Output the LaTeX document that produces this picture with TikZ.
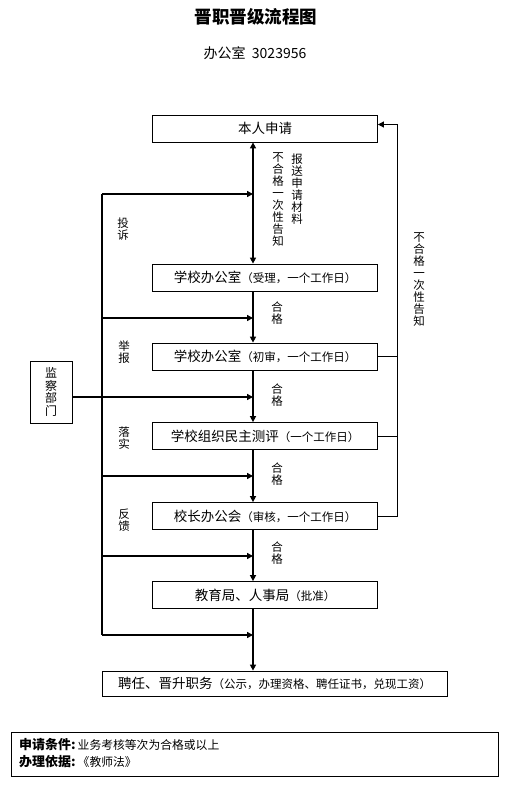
\documentclass[tikz,border=0pt]{standalone}
\usepackage{fontspec}
\setmainfont{Noto Sans CJK SC}
\usepackage{tikz}
\usetikzlibrary{positioning, arrows.meta}

\newcommand{\kuohao}[1]{{\fontsize{11.5}{14}\selectfont #1}}

\begin{document}
\begin{tikzpicture}[x=1pt, y=-1pt,
    box/.style={rectangle, draw, line width=0.8pt, minimum width=225pt, minimum height=27pt, inner sep=0pt, font=\fontsize{13.5}{16}\selectfont},
    vlabel/.style={align=center, inner sep=0pt, font=\fontsize{11.5}{12}\selectfont},
    mainline/.style={line width=1.8pt},
    arrow/.style={-{Triangle[length=6pt, width=6pt]}, line width=1.5pt},
    back/.style={line width=0.8pt}
]
    \useasboundingbox (0,0) rectangle (518,792);

    % === 标题 ===
    \node[font=\fontsize{17.5}{20}\selectfont\bfseries] (title) at (256,17) {晋职晋级流程图};
    \node[font=\fontsize{14}{16}\selectfont] (office) at (255,53) {办公室\ \ 3023956};

    % === 流程框 ===
    \node[box] (b1) at (265,128.5) {本人申请};
    \node[box] (b2) at (265,277.5) {学校办公室\kuohao{（受理，一个工作日）}};
    \node[box] (b3) at (265,356.5) {学校办公室\kuohao{（初审，一个工作日）}};
    \node[box] (b4) at (265,436) {学校组织民主测评\kuohao{（一个工作日）}};
    \node[box] (b5) at (265,516) {校长办公会\kuohao{（审核，一个工作日）}};
    \node[box] (b6) at (265,595) {教育局、人事局\kuohao{（批准）}};
    \node[box, minimum width=345pt, minimum height=25pt] (b7) at (274.5,683.5) {聘任、晋升职务\kuohao{（公示，办理资格、聘任证书，兑现工资）}};

    % === 主线 ===
    \coordinate (spine) at (253,0);
    \draw[mainline, {Triangle[length=6pt, width=6pt]}-{Triangle[length=6pt, width=6pt]}] (b1.south -| spine) -- (b2.north -| spine);
    \foreach \a/\b in {b2/b3, b3/b4, b4/b5, b5/b6, b6/b7}
        \draw[mainline, -{Triangle[length=6pt, width=6pt]}] (\a.south -| spine) -- (\b.north -| spine);

    \node[vlabel] (notice1) at (278,200) {不\\合\\格\\一\\次\\性\\告\\知};
    \node[vlabel] (submit) at (297,189) {报\\送\\申\\请\\材\\料};
    \node[vlabel] (ok1) at (277,313) {合\\格};
    \node[vlabel] (ok2) at (277,395) {合\\格};
    \node[vlabel] (ok3) at (277,474) {合\\格};
    \node[vlabel] (ok4) at (277,553) {合\\格};

    % === 监督 ===
    \node[draw, line width=0.8pt, minimum width=42pt, minimum height=62pt, inner sep=0pt, align=center, font=\fontsize{12}{12.5}\selectfont] (jc) at (51,392) {监\\察\\部\\门};
    \coordinate (L1) at (102,194);
    \coordinate (L2) at (102,318);
    \coordinate (L3) at (102,397);
    \coordinate (L4) at (102,476);
    \coordinate (L5) at (102,556);
    \coordinate (L6) at (102,635);
    \draw[line width=1.3pt] (L1) -- (L6);
    \foreach \r in {L1, L2, L4, L5, L6}
        \draw[arrow] (\r) -- (\r -| spine);
    \draw[arrow] (jc.east |- L3) -- (L3 -| spine);

    \node[vlabel] (tousu) at (123,229) {投\\诉};
    \node[vlabel] (jubao) at (124,352) {举\\报};
    \node[vlabel] (luoshi) at (124,438) {落\\实};
    \node[vlabel] (fankui) at (124,520) {反\\馈};

    % === 不合格退回 ===
    \coordinate (R) at (397,0);
    \draw[back, -{Triangle[length=6pt, width=6pt]}] (b5.east) -- (b5.east -| R) -- ([yshift=4pt]b1.east -| R) -- ([yshift=4pt]b1.east);
    \draw[back] (b3.east) -- (b3.east -| R);
    \draw[back] (b4.east) -- (b4.east -| R);
    \node[vlabel] (notice2) at (419,280) {不\\合\\格\\一\\次\\性\\告\\知};

    % === 说明 ===
    \node[draw, line width=0.8pt, minimum width=487pt, minimum height=44pt, inner sep=0pt] (info) at (254.5,754) {};
    \node[anchor=west, inner sep=0pt, font=\fontsize{11.8}{14}\selectfont] (cond) at (19,745) {{\fontsize{13}{14}\selectfont\bfseries 申请条件:}\,业务考核等次为合格或以上};
    \node[anchor=west, inner sep=0pt, font=\fontsize{11.8}{14}\selectfont] (basis) at (19,762) {{\fontsize{13}{14}\selectfont\bfseries 办理依据:}\,《教师法》};
\end{tikzpicture}
\end{document}
